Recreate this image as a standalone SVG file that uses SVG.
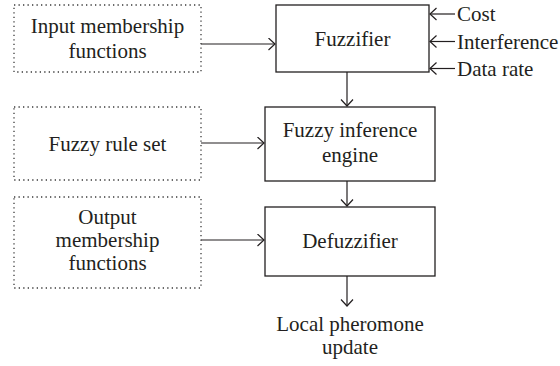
<svg xmlns="http://www.w3.org/2000/svg" width="560" height="366" viewBox="0 0 560 366" font-family="'Liberation Serif', 'DejaVu Serif', serif">
<defs>
<style>
text{font-family:"Liberation Serif","DejaVu Serif",serif;font-size:21px;fill:#231f20}
.c{text-anchor:middle}
.box{fill:#fff;stroke:#231f20;stroke-width:1.3}
.dot{fill:none;stroke:#3a3a3a;stroke-width:1.3;stroke-dasharray:1.3 3.2}
.ln{fill:none;stroke:#231f20;stroke-width:1.2;marker-end:url(#ah)}
</style>
<marker id="ah" markerUnits="userSpaceOnUse" markerWidth="10" markerHeight="14" refX="7" refY="6.5" orient="auto">
<path d="M0.5,0.5 L7,6.5 L0.5,12.5" fill="none" stroke="#231f20" stroke-width="1.2"/>
</marker>
</defs>
<rect width="560" height="366" fill="#fff"/>
<g id="connectors">
<line class="ln" x1="201" y1="44" x2="275" y2="44"/>
<line class="ln" x1="455" y1="14" x2="430" y2="14"/>
<line class="ln" x1="455" y1="41.5" x2="430" y2="41.5"/>
<line class="ln" x1="455" y1="68.5" x2="430" y2="68.5"/>
<line class="ln" x1="347" y1="72" x2="347" y2="106"/>
<line class="ln" x1="201" y1="143" x2="264" y2="143"/>
<line class="ln" x1="347" y1="181" x2="347" y2="206"/>
<line class="ln" x1="201" y1="240" x2="264" y2="240"/>
<line class="ln" x1="347" y1="276" x2="347" y2="306"/>
</g>
<g id="input-mf">
<rect class="dot" x="14" y="5" width="187" height="67"/>
<text class="c" x="107.5" y="33">Input membership</text>
<text class="c" x="107.5" y="58">functions</text>
</g>
<g id="fuzzifier">
<rect class="box" x="276" y="5" width="153" height="67"/>
<text class="c" x="352.5" y="45.5">Fuzzifier</text>
</g>
<g id="cost"><text x="457" y="21">Cost</text></g>
<g id="interference"><text x="457" y="48.5">Interference</text></g>
<g id="data-rate"><text x="457" y="75.5">Data rate</text></g>
<g id="rule-set">
<rect class="dot" x="14" y="107" width="187" height="73"/>
<text class="c" x="107.5" y="150.5">Fuzzy rule set</text>
</g>
<g id="inference">
<rect class="box" x="265" y="107" width="170" height="74"/>
<text class="c" x="350" y="137">Fuzzy inference</text>
<text class="c" x="350" y="162">engine</text>
</g>
<g id="output-mf">
<rect class="dot" x="14" y="197" width="187" height="91"/>
<text class="c" x="107.5" y="224">Output</text>
<text class="c" x="107.5" y="247">membership</text>
<text class="c" x="107.5" y="270">functions</text>
</g>
<g id="defuzzifier">
<rect class="box" x="265" y="207" width="170" height="69"/>
<text class="c" x="350" y="248">Defuzzifier</text>
</g>
<g id="pheromone">
<text class="c" x="350" y="331">Local pheromone</text>
<text class="c" x="350" y="354">update</text>
</g>
</svg>
